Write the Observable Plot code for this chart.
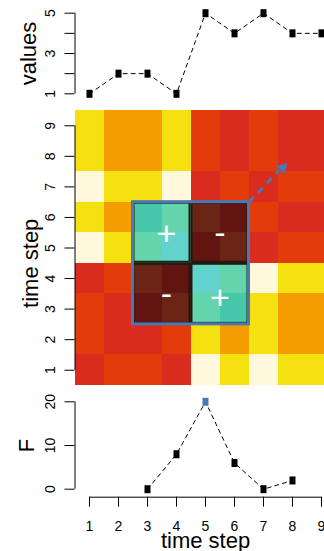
<!DOCTYPE html>
<html><head><meta charset="utf-8">
<script src="https://cdn.jsdelivr.net/npm/d3@7"></script>
<script src="https://cdn.jsdelivr.net/npm/@observablehq/plot@0.6"></script>
<style>
html,body{margin:0;padding:0;background:#fff;}
#chart{width:324px;height:551px;overflow:hidden;}
#chart svg{display:block;overflow:hidden;}
</style></head><body><div id="chart"></div>
<script>
// ---- data ----
const timeSteps = [1, 2, 3, 4, 5, 6, 7, 8, 9];
const values = [1, 2, 2, 1, 5, 4, 5, 4, 4];
const valueTicks = [1, 2, 3, 4, 5];
const valueTickLabels = [1, 3, 5];
const heatRows = [9, 8, 7, 6, 5, 4, 3, 2, 1];
const heatTicks = [1, 2, 3, 4, 5, 6, 7, 8, 9];
const heatLevels = [
  [3, 2, 2, 3, 1, 0, 1, 0, 0],
  [3, 2, 2, 3, 1, 0, 1, 0, 0],
  [4, 3, 3, 4, 0, 1, 0, 1, 1],
  [3, 2, 2, 3, 1, 0, 1, 0, 0],
  [4, 3, 3, 4, 0, 1, 0, 1, 1],
  [0, 1, 1, 0, 4, 3, 4, 3, 3],
  [1, 0, 0, 1, 3, 2, 3, 2, 2],
  [1, 0, 0, 1, 3, 2, 3, 2, 2],
  [0, 1, 1, 0, 4, 3, 4, 3, 3]
];
const quadX1 = [2.5, 4.5, 2.5, 4.5];
const quadX2 = [4.5, 6.5, 4.5, 6.5];
const quadY1 = [4.5, 4.5, 2.5, 2.5];
const quadY2 = [6.5, 6.5, 4.5, 4.5];
const quadSign = ["+", "-", "-", "+"];
const signX = [3.65, 5.5, 3.65, 5.5];
const signY = [5.45, 5.5, 3.5, 3.35];
const arrowStart = [6.5, 6.5];
const arrowEnd = [7.55, 7.55];
const arrowHeadAt = [7.66, 7.63];
const fSteps = [3, 4, 5, 6, 7, 8];
const fValues = [0, 8, 20, 6, 0, 2];
const fHighlight = 5;
const fTicks = [0, 10, 20];

// ---- styles ----
const heatPalette = ["#DA2C1E", "#E23C0B", "#F49D00", "#F5E010", "#FFF8DD"];
const plusPalette = ["#3EBCA2", "#44C2A6", "#48C8AA", "#64D4AC", "#62D2CC"];
const minusPalette = ["#621410", "#6A2516", "#70301a", "#78401e", "#804a24"];
const blue = "#4A78B4";
const fontFamily = "'Liberation Sans', Arial, Helvetica, sans-serif";
const xScale = {type: "linear", domain: [0.5, 9.5], range: [74.5, 335.5], axis: null};
const sq = {draw(ctx) { ctx.rect(-3, -4, 6, 8); }};
const baseStyle = {fontFamily, fontSize: "14px", background: "white", overflow: "hidden", display: "block"};

function yAxisMarks(ticks, labels, title, titleY, titleDx) {
  return [
    Plot.ruleX([0.5], {y1: ticks[0], y2: ticks[ticks.length - 1], stroke: "black", strokeWidth: 1}),
    Plot.axisY({ticks, tickSize: 10, tickFormat: () => "", anchor: "left", label: null}),
    Plot.text(labels, {y: d => d, text: d => String(d), frameAnchor: "left", dx: -24.5, rotate: -90,
      textAnchor: "middle", lineAnchor: "middle", fontSize: 14, fill: "black"}),
    Plot.text([title], {y: () => titleY, text: d => d, frameAnchor: "left", dx: titleDx, rotate: -90,
      textAnchor: "middle", lineAnchor: "bottom", fontSize: 22, fill: "black"})
  ];
}

const chart = document.getElementById("chart");

// ---- top panel ----
const topData = timeSteps.map((t, i) => ({t, v: values[i]}));
chart.append(Plot.plot({
  width: 324, height: 100, marginLeft: 74.5, marginRight: 0, marginTop: 12.7, marginBottom: 6.7,
  x: xScale,
  y: {domain: [1, 5], range: [93.3, 12.7], axis: null},
  style: baseStyle,
  marks: [
    Plot.line(topData, {x: "t", y: "v", stroke: "black", strokeWidth: 1, strokeDasharray: "4,4"}),
    Plot.dot(topData, {x: "t", y: "v", symbol: sq, fill: "black", stroke: "none"}),
    ...yAxisMarks(valueTicks, valueTickLabels, "values", 3, -39.5)
  ]
}));

// ---- heatmap panel ----
const cells = [];
heatRows.forEach((y, r) => timeSteps.forEach((x, c) => cells.push({x, y, level: heatLevels[r][c]})));
const quads = quadSign.map((s, i) => ({x1: quadX1[i], x2: quadX2[i], y1: quadY1[i], y2: quadY2[i], sign: s}));
const boxCells = [];
cells.forEach(d => {
  const q = quads.find(q => d.x > q.x1 && d.x < q.x2 && d.y > q.y1 && d.y < q.y2);
  if (q) boxCells.push({...d, sign: q.sign});
});
const outer = [{x1: d3.min(quadX1), x2: d3.max(quadX2), y1: d3.min(quadY1), y2: d3.max(quadY2)}];
const signs = quadSign.map((s, i) => ({x: signX[i], y: signY[i], s}));

chart.append(Plot.plot({
  width: 324, height: 290, marginLeft: 74.5, marginRight: 0, marginTop: 10, marginBottom: 5,
  x: xScale,
  y: {domain: [0.5, 9.5], range: [285, 10], axis: null},
  color: {type: "identity"},
  style: baseStyle,
  marks: [
    Plot.rect(cells, {x1: d => d.x - 0.5, x2: d => d.x + 0.5, y1: d => d.y - 0.5, y2: d => d.y + 0.5,
      fill: d => heatPalette[d.level], shapeRendering: "crispEdges"}),
    Plot.rect(boxCells, {x1: d => d.x - 0.5, x2: d => d.x + 0.5, y1: d => d.y - 0.5, y2: d => d.y + 0.5,
      fill: d => d.sign === "+" ? plusPalette[d.level] : minusPalette[d.level], shapeRendering: "crispEdges"}),
    Plot.rect(quads, {x1: "x1", x2: "x2", y1: "y1", y2: "y2", fill: "none", stroke: "#1E1A10", strokeWidth: 2, inset: 1}),
    Plot.link([0], {x1: () => arrowStart[0], y1: () => arrowStart[1], x2: () => arrowEnd[0], y2: () => arrowEnd[1],
      stroke: blue, strokeWidth: 3, strokeDasharray: "7,6"}),
    Plot.dot([0], {x: () => arrowHeadAt[0], y: () => arrowHeadAt[1], symbol: "triangle", rotate: 45, r: 4.3,
      fill: blue, stroke: "none"}),
    Plot.rect(outer, {x1: "x1", x2: "x2", y1: "y1", y2: "y2", fill: "none", stroke: blue, strokeWidth: 3}),
    Plot.text(signs, {x: "x", y: "y", text: "s", fill: "white", fontSize: 34, textAnchor: "middle", lineAnchor: "middle"}),
    ...yAxisMarks(heatTicks, heatTicks, "time step", 4.5, -37.5)
  ]
}));

// ---- F panel ----
const fData = fSteps.map((t, i) => ({t, f: fValues[i]}));
chart.append(Plot.plot({
  width: 324, height: 161, marginLeft: 74.5, marginRight: 0, marginTop: 11.3, marginBottom: 54.3,
  x: xScale,
  y: {domain: [0, 20], range: [98.7, 11.3], axis: null},
  color: {type: "identity"},
  style: baseStyle,
  marks: [
    Plot.line(fData, {x: "t", y: "f", stroke: "black", strokeWidth: 1, strokeDasharray: "4,4"}),
    Plot.dot(fData, {x: "t", y: "f", symbol: sq, fill: d => d.t === fHighlight ? blue : "black", stroke: "none"}),
    ...yAxisMarks(fTicks, fTicks, "F", 10, -41),
    Plot.ruleY([0], {x1: timeSteps[0], x2: timeSteps[timeSteps.length - 1], dy: 8, stroke: "black", strokeWidth: 1}),
    Plot.axisX({ticks: timeSteps, tickSize: 10, tickPadding: 14, anchor: "bottom", label: null, fontSize: 14}),
    Plot.text(["time step"], {x: () => 5, text: d => d, frameAnchor: "bottom", dy: 50.3, textAnchor: "middle",
      lineAnchor: "bottom", fontSize: 22, fill: "black"})
  ]
}));
</script></body></html>
